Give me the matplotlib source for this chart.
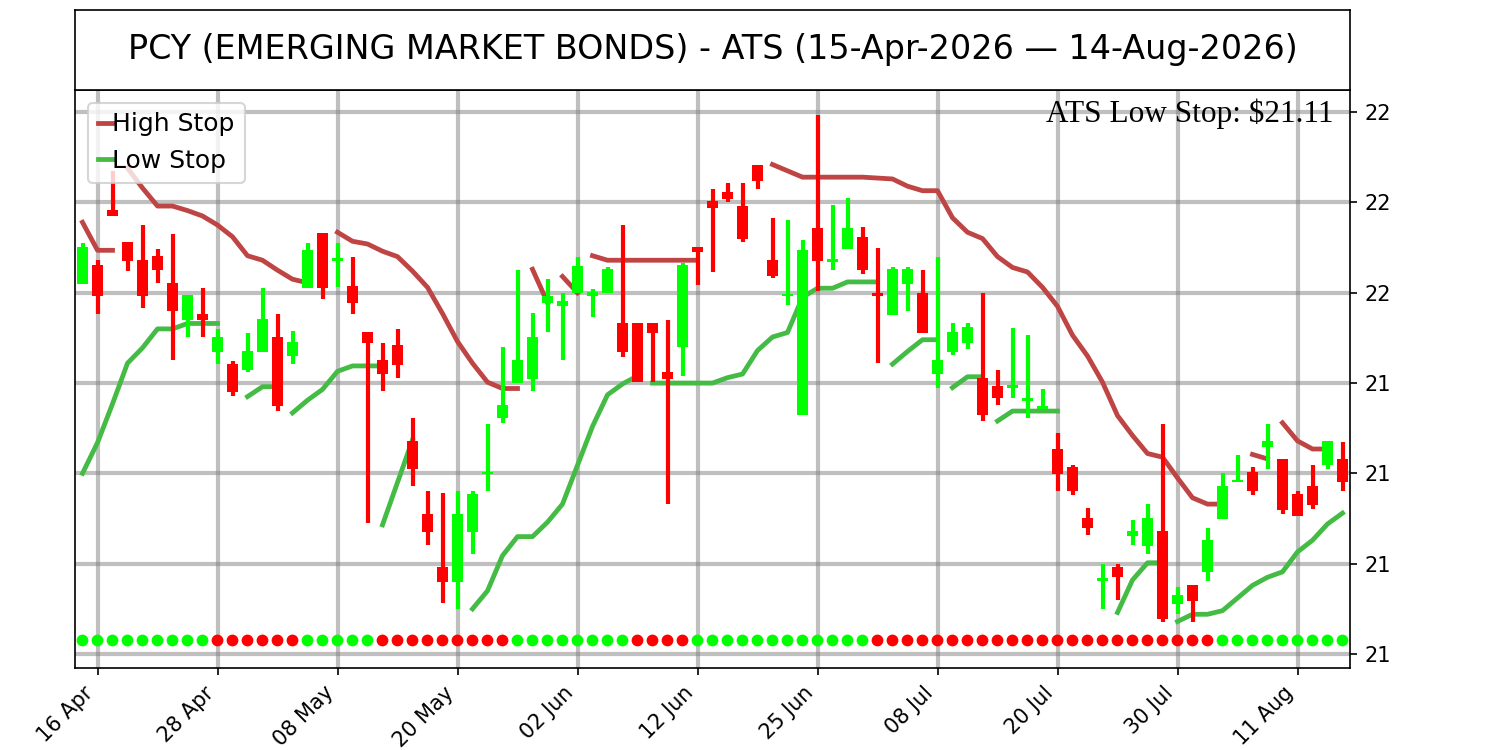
import numpy as np
import pandas as pd
import matplotlib
matplotlib.use("Agg")
import matplotlib.pyplot as plt

# ---------------- data ----------------
title_text = "PCY (EMERGING MARKET BONDS) - ATS (15-Apr-2026 \u2014 14-Aug-2026)"
stop_text = "ATS Low Stop: $21.11"

start_date = "2026-04-15"
end_date = "2026-08-14"
holidays = ["2026-05-25", "2026-06-19", "2026-07-03"]

tick_dates = ["2026-04-16", "2026-04-28", "2026-05-08", "2026-05-20", "2026-06-02",
              "2026-06-12", "2026-06-25", "2026-07-08", "2026-07-20", "2026-07-30",
              "2026-08-11"]

y_ticks = [21.1, 21.2, 21.3, 21.4, 21.5, 21.6, 21.7]
y_tick_labels = ["21", "21", "21", "21", "22", "22", "22"]

open_ = [21.510, 21.531, 21.592, 21.556, 21.536, 21.541, 21.511, 21.470, 21.476, 21.434,
         21.421, 21.414, 21.434, 21.451, 21.430, 21.505, 21.566, 21.535, 21.507, 21.457,
         21.426, 21.442, 21.336, 21.255, 21.196, 21.180, 21.235, 21.299, 21.361, 21.400,
         21.404, 21.489, 21.485, 21.500, 21.496, 21.500, 21.466, 21.466, 21.466, 21.412,
         21.440, 21.551, 21.602, 21.612, 21.596, 21.642, 21.536, 21.496, 21.365, 21.572,
         21.534, 21.549, 21.562, 21.500, 21.475, 21.510, 21.500, 21.410, 21.434, 21.444,
         21.406, 21.397, 21.395, 21.380, 21.371, 21.327, 21.307, 21.251, 21.181, 21.196,
         21.231, 21.220, 21.236, 21.155, 21.176, 21.191, 21.250, 21.290, 21.301, 21.329,
         21.316, 21.277, 21.286, 21.309, 21.316]
high = [21.555, 21.536, 21.635, 21.556, 21.575, 21.549, 21.565, 21.498, 21.505, 21.460,
        21.424, 21.455, 21.505, 21.476, 21.458, 21.555, 21.566, 21.555, 21.540, 21.457,
        21.444, 21.460, 21.361, 21.280, 21.278, 21.280, 21.280, 21.355, 21.440, 21.525,
        21.478, 21.515, 21.500, 21.540, 21.504, 21.529, 21.575, 21.466, 21.466, 21.470,
        21.533, 21.551, 21.615, 21.621, 21.621, 21.642, 21.583, 21.581, 21.558, 21.697,
        21.597, 21.605, 21.573, 21.550, 21.529, 21.529, 21.525, 21.540, 21.466, 21.466,
        21.500, 21.415, 21.461, 21.453, 21.393, 21.345, 21.309, 21.262, 21.200, 21.200,
        21.248, 21.266, 21.355, 21.174, 21.176, 21.240, 21.300, 21.320, 21.307, 21.355,
        21.316, 21.280, 21.309, 21.336, 21.335]
low = [21.510, 21.476, 21.585, 21.524, 21.483, 21.511, 21.425, 21.451, 21.451, 21.421,
       21.386, 21.412, 21.434, 21.369, 21.421, 21.505, 21.493, 21.506, 21.476, 21.245,
       21.391, 21.406, 21.286, 21.221, 21.156, 21.150, 21.211, 21.281, 21.356, 21.400,
       21.391, 21.456, 21.425, 21.500, 21.473, 21.500, 21.429, 21.401, 21.401, 21.266,
       21.408, 21.509, 21.523, 21.601, 21.556, 21.615, 21.516, 21.486, 21.365, 21.502,
       21.525, 21.549, 21.521, 21.422, 21.475, 21.480, 21.455, 21.395, 21.431, 21.438,
       21.358, 21.376, 21.383, 21.361, 21.371, 21.281, 21.276, 21.232, 21.150, 21.160,
       21.221, 21.211, 21.136, 21.144, 21.136, 21.181, 21.250, 21.290, 21.276, 21.305,
       21.255, 21.253, 21.261, 21.305, 21.281]
close = [21.551, 21.496, 21.585, 21.535, 21.496, 21.525, 21.480, 21.497, 21.470, 21.451,
         21.390, 21.435, 21.471, 21.375, 21.446, 21.547, 21.505, 21.537, 21.489, 21.444,
         21.410, 21.420, 21.305, 21.235, 21.180, 21.255, 21.277, 21.301, 21.376, 21.425,
         21.451, 21.496, 21.491, 21.530, 21.501, 21.526, 21.434, 21.401, 21.455, 21.405,
         21.531, 21.545, 21.594, 21.604, 21.560, 21.624, 21.519, 21.499, 21.547, 21.535,
         21.536, 21.572, 21.525, 21.496, 21.526, 21.526, 21.455, 21.426, 21.457, 21.462,
         21.365, 21.384, 21.397, 21.382, 21.375, 21.299, 21.280, 21.240, 21.184, 21.185,
         21.236, 21.251, 21.139, 21.165, 21.159, 21.226, 21.286, 21.293, 21.280, 21.336,
         21.260, 21.253, 21.265, 21.336, 21.290]

# stop lines: (first bar index, values)
high_stop_segments = [
    (0, [21.578, 21.547, 21.547]),
    (3, [21.638, 21.616, 21.596, 21.596, 21.591, 21.585, 21.575, 21.562, 21.541, 21.536,
         21.525, 21.515, 21.511]),
    (17, [21.567, 21.557, 21.554, 21.546, 21.540, 21.524, 21.506, 21.477, 21.446, 21.422,
          21.401, 21.394, 21.394]),
    (30, [21.526, 21.489]),
    (32, [21.518, 21.500]),
    (34, [21.541, 21.536, 21.536, 21.536, 21.536, 21.536, 21.536, 21.536]),
    (46, [21.642, 21.635, 21.628, 21.628, 21.628, 21.628, 21.628, 21.627, 21.626, 21.618,
          21.613, 21.613, 21.583, 21.567, 21.560, 21.540, 21.528, 21.523, 21.506, 21.485,
          21.453, 21.430, 21.401, 21.364, 21.342, 21.322, 21.318, 21.295, 21.273, 21.266,
          21.266]),
    (78, [21.321, 21.316]),
    (80, [21.356, 21.336, 21.327, 21.327]),
]
low_stop_segments = [
    (0, [21.300, 21.334, 21.377, 21.422, 21.439, 21.460, 21.460, 21.466, 21.466, 21.466]),
    (11, [21.385, 21.396, 21.396]),
    (14, [21.367, 21.381, 21.393, 21.413, 21.419, 21.419, 21.419]),
    (20, [21.243, 21.290, 21.337]),
    (26, [21.150, 21.170, 21.209, 21.230, 21.230, 21.246, 21.266, 21.309, 21.352, 21.387,
          21.399, 21.408]),
    (38, [21.400, 21.400, 21.400, 21.400, 21.400, 21.406, 21.410, 21.436, 21.451, 21.456,
          21.495, 21.505, 21.505, 21.512, 21.512, 21.512]),
    (54, [21.421, 21.435, 21.448, 21.448]),
    (58, [21.395, 21.407, 21.407]),
    (61, [21.358, 21.369, 21.369, 21.369, 21.369]),
    (69, [21.146, 21.182, 21.201, 21.201]),
    (73, [21.136, 21.144, 21.144, 21.148, 21.162, 21.176, 21.185, 21.191, 21.213, 21.226,
          21.244, 21.256]),
]

# signal dots: 1 = long (green), 0 = short (red)
signal = [1, 1, 1, 1, 1, 1, 1, 1, 1, 0, 0, 0, 0, 0, 0, 1, 1, 1, 1, 1,
          0, 0, 0, 0, 0, 0, 0, 0, 0, 1, 1, 1, 1, 1, 1, 1, 1, 0, 0, 0,
          0, 1, 1, 1, 1, 1, 1, 1, 1, 1, 1, 1, 1, 0, 0, 0, 0, 0, 0, 0,
          0, 0, 0, 0, 0, 0, 0, 0, 0, 0, 0, 0, 0, 0, 0, 0, 1, 1, 1, 1,
          1, 1, 1, 1, 1]
signal_level = 21.115

# ---------------- styling ----------------
UP = "#00ff00"
DOWN = "#ff0000"
HIGH_C = "#bf4444"
LOW_C = "#44bb44"

dates = pd.bdate_range(start_date, end_date).drop(pd.to_datetime(holidays))
x = np.arange(len(dates))
o = np.array(open_); h = np.array(high); l = np.array(low); c = np.array(close)

fig = plt.figure(figsize=(10, 5), dpi=150)
ax = fig.add_axes([0.05, 0.1093, 0.85, 0.7707])
tax = fig.add_axes([0.05, 0.88, 0.85, 0.1067])
tax.set_xticks([]); tax.set_yticks([])
tax.text(0.5, 0.5, title_text, ha="center", va="center", fontsize=16,
         transform=tax.transAxes)

ax.set_axisbelow(True)
ax.grid(True, color="gray", alpha=0.5, linewidth=2)

colors = np.where(c >= o, UP, DOWN)
ax.vlines(x, l, h, colors=colors, linewidth=2, zorder=3)
body_bottom = np.minimum(o, c)
body_h = np.maximum(np.abs(c - o), 0.003)
ax.bar(x, body_h, bottom=body_bottom, width=0.7, color=colors, linewidth=0, zorder=3)

for k, (s, vals) in enumerate(high_stop_segments):
    xs = np.arange(s, s + len(vals))
    ax.plot(xs, vals, color=HIGH_C, lw=2.3, zorder=2,
            label="High Stop" if k == 0 else None)
for k, (s, vals) in enumerate(low_stop_segments):
    xs = np.arange(s, s + len(vals))
    ax.plot(xs, vals, color=LOW_C, lw=2.3, zorder=2,
            label="Low Stop" if k == 0 else None)

dot_colors = [UP if v == 1 else DOWN for v in signal]
ax.scatter(x, np.full(len(x), signal_level), c=dot_colors, s=32, zorder=4, linewidths=0)

ax.text(0.987, 0.985, stop_text, transform=ax.transAxes, ha="right", va="top",
        fontsize=15, family="Liberation Serif", zorder=6)

ax.legend(loc="upper left", fontsize=12, handlelength=0.6, handletextpad=0.0)

ax.set_xlim(-0.5, len(x) - 0.5)
ax.set_ylim(21.0845, 21.7245)
ax.yaxis.tick_right()
ax.set_yticks(y_ticks)
ax.set_yticklabels(y_tick_labels, fontsize=10)

tick_pos = [dates.get_loc(pd.Timestamp(d)) for d in tick_dates]
ax.set_xticks(tick_pos)
ax.set_xticklabels([pd.Timestamp(d).strftime("%d %b") for d in tick_dates],
                   rotation=45, ha="right", fontsize=10)

fig.savefig("out.png", dpi=150)
